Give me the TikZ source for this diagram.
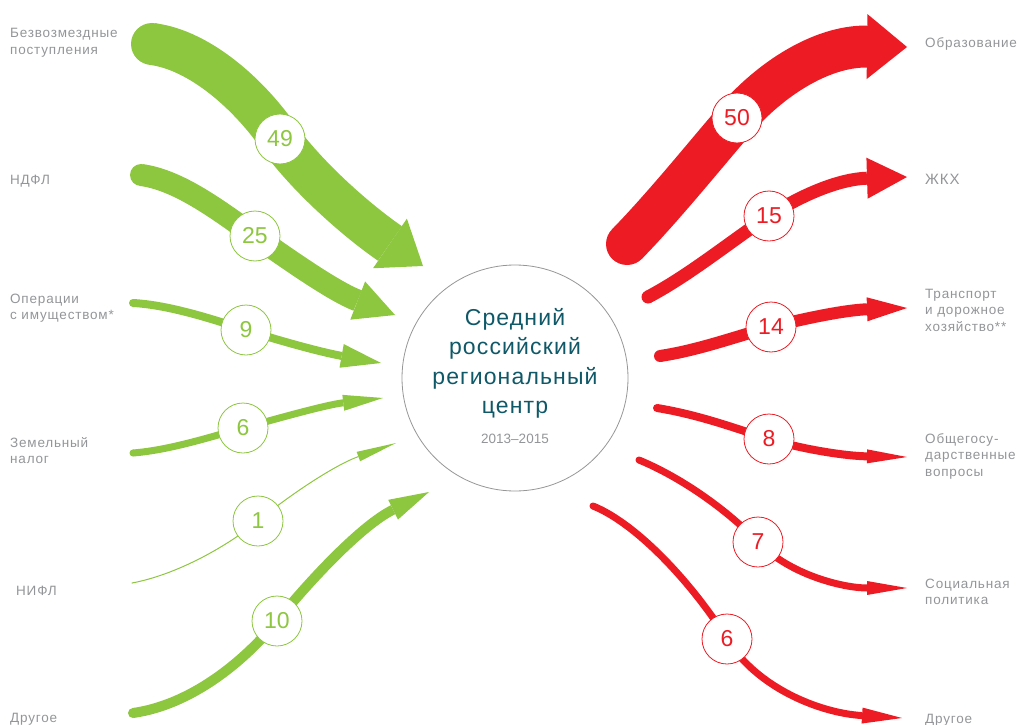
\documentclass[tikz,border=0pt]{standalone}
\usepackage{fontspec}
\setmainfont{Liberation Sans}
\newfontfamily\labfont[LetterSpace=6]{Liberation Sans}
\newfontfamily\ctrfont[LetterSpace=5]{Liberation Sans}
\usetikzlibrary{calc}
\definecolor{gr}{RGB}{141,198,63}
\definecolor{rd}{RGB}{237,28,36}
\definecolor{labgray}{RGB}{147,149,152}
\definecolor{ctrteal}{RGB}{14,88,104}
\definecolor{circgray}{RGB}{150,150,150}
% #1 colour, #2 line width, #3 half head width, #4 index, #5-#8 control points
\newcommand\flow[8]{%
  \path ($(t#4)!40pt!(#8)$) coordinate (b#4);
  \draw[#1, line width=#2pt] (s#4) .. controls (#5) and (#6) .. (p#4) .. controls (#7) and (#8) .. (b#4);
  \fill[#1] (s#4) circle ({#2pt/2});
  \fill[#1] (t#4) -- ($(b#4)!#3pt!90:(t#4)$) -- ($(b#4)!#3pt!-90:(t#4)$) -- cycle;
}
\begin{document}
\begin{tikzpicture}[x=1pt,y=-1pt,
  num/.style={circle, draw=#1, fill=white, line width=0.8pt, minimum size=50pt,
    inner sep=0pt, text=#1, font=\fontsize{23}{23}\selectfont},
  lab/.style={anchor=base west, align=left, inner sep=0pt, text=labgray,
    font=\labfont\fontsize{13.5}{16.5}\selectfont},
  ctr/.style={anchor=base, inner sep=0pt, text=ctrteal, font=\ctrfont\fontsize{23}{23}\selectfont}]
\useasboundingbox (0,0) rectangle (1020,725);

% green (incoming)
\coordinate (s1) at (152,44);  \coordinate (p1) at (280,139); \coordinate (t1) at (423,266);
\coordinate (s2) at (141,175); \coordinate (p2) at (255,236); \coordinate (t2) at (395,315);
\coordinate (s3) at (133,303); \coordinate (p3) at (246,330); \coordinate (t3) at (381,363);
\coordinate (s4) at (133,453); \coordinate (p4) at (243,428); \coordinate (t4) at (383,398);
\coordinate (s5) at (132,583); \coordinate (p5) at (258,521); \coordinate (t5) at (396,443);
\coordinate (s6) at (133,713); \coordinate (p6) at (277,621); \coordinate (t6) at (429,492);
% red (outgoing)
\coordinate (s7) at (627,244); \coordinate (p7) at (737,118); \coordinate (t7) at (907,47);
\coordinate (s8) at (648,297); \coordinate (p8) at (769,216); \coordinate (t8) at (907,177);
\coordinate (s9) at (660,356); \coordinate (p9) at (771,327); \coordinate (t9) at (907,308);
\coordinate (s10) at (657,408); \coordinate (p10) at (769,439); \coordinate (t10) at (907,457);
\coordinate (s11) at (639,460); \coordinate (p11) at (758,542); \coordinate (t11) at (907,588);
\coordinate (s12) at (593,506); \coordinate (p12) at (727,639); \coordinate (t12) at (902,718);

\flow{gr}{42}{30}{1}{200,50}{250,95}{310,180}{360,223}
\flow{gr}{22}{20.5}{2}{180,180}{222,213}{288,259}{333,291}
\flow{gr}{8}{12}{3}{170,305}{215,320}{277,340}{320,352}
\flow{gr}{7}{8}{4}{170,450}{210,437}{276,419}{325,405}
\flow{gr}{1}{5}{5}{175,575}{225,548}{291,494}{335,465}
\flow{gr}{10}{11}{6}{190,705}{243,663}{311,579}{362,525}

\flow{rd}{42}{32.5}{7}{665,205}{705,155}{769,81}{820,46}
\flow{rd}{13}{20.5}{8}{690,275}{735,238}{803,194}{840,179}
\flow{rd}{12}{12}{9}{700,350}{740,335}{802,319}{845,310}
\flow{rd}{8}{7}{10}{700,415}{737,429}{801,449}{845,456}
\flow{rd}{7}{7}{11}{680,477}{725,508}{791,576}{845,588}
\flow{rd}{7}{8}{12}{640,525}{697,590}{757,688}{820,713}

\node[num=gr] (n1) at (p1) {49};
\node[num=gr] (n2) at (p2) {25};
\node[num=gr] (n3) at (p3) {9};
\node[num=gr] (n4) at (p4) {6};
\node[num=gr] (n5) at (p5) {1};
\node[num=gr] (n6) at (p6) {10};
\node[num=rd] (n7) at (p7) {50};
\node[num=rd] (n8) at (p8) {15};
\node[num=rd] (n9) at (p9) {14};
\node[num=rd] (n10) at (p10) {8};
\node[num=rd] (n11) at (p11) {7};
\node[num=rd] (n12) at (p12) {6};

% centre
\node[circle, draw=circgray, line width=0.8pt, minimum size=226pt, inner sep=0pt] (c) at (515,378) {};
\node[ctr] (c1) at (515,325) {Средний};
\node[ctr] (c2) at (515,354.5) {российский};
\node[ctr] (c3) at (515,384) {региональный};
\node[ctr] (c4) at (515,413) {центр};
\node[anchor=base, inner sep=0pt, text=labgray, font=\fontsize{13.5}{13.5}\selectfont] (c5) at (515,443) {2013–2015};

% left labels (anchored at the baseline of the last line)
\node[lab] (l1) at (10,54.5) {Безвозмездные\\поступления};
\node[lab] (l2) at (10,184) {НДФЛ};
\node[lab] (l3) at (10,319.5) {Операции\\с имуществом*};
\node[lab] (l4) at (10,463.5) {Земельный\\налог};
\node[lab] (l5) at (16,595) {НИФЛ};
\node[lab] (l6) at (10,722) {Другое};
% right labels
\node[lab] (r1) at (925,48) {Образование};
\node[lab, font=\labfont\fontsize{15}{16.5}\selectfont] (r2) at (925,184) {ЖКХ};
\node[lab] (r3) at (925,331) {Транспорт\\и дорожное\\хозяйство**};
\node[lab] (r4) at (925,476) {Общегосу-\\дарственные\\вопросы};
\node[lab] (r5) at (925,604.5) {Социальная\\политика};
\node[lab] (r6) at (925,723) {Другое};
\end{tikzpicture}
\end{document}
